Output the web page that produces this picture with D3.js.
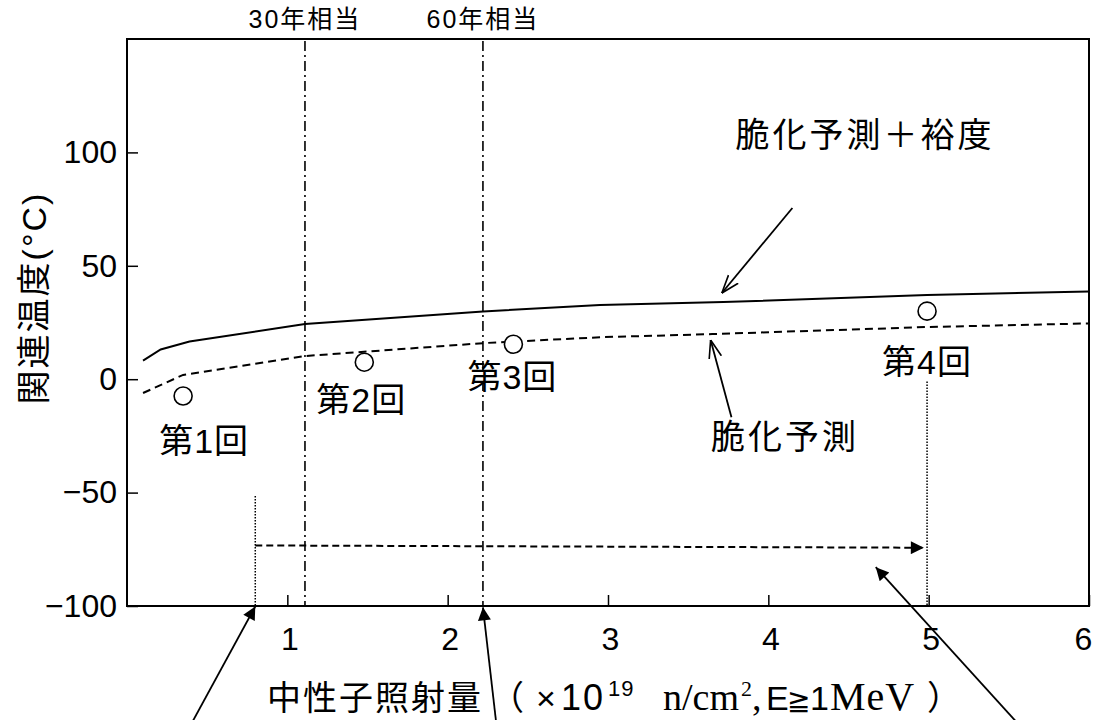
<!DOCTYPE html>
<html>
<head>
<meta charset="utf-8">
<script src="https://cdn.jsdelivr.net/npm/d3@7"></script>
<style>
  body { margin: 0; background: #fff; }
  svg { display: block; }
  text { fill: #000; }
</style>
</head>
<body>
<script>
// x: 中性子照射量 (x10^19 n/cm2), y: 関連温度 (°C)
var xTicks = [1, 2, 3, 4, 5, 6];
var yTicks = [-100, -50, 0, 50, 100];

// 脆化予測＋裕度 (solid)
var marginFluence = [0.10, 0.21, 0.39, 1.11, 2.22, 2.95, 3.72, 4.99, 6.0];
var marginTemp = [8.2, 13.1, 16.6, 24.3, 29.9, 32.7, 34.0, 37.1, 38.7];

// 脆化予測 (dashed)
var predFluence = [0.10, 0.35, 1.11, 2.22, 2.95, 3.65, 4.99, 6.0];
var predTemp = [-6.1, 1.9, 10.2, 15.9, 18.5, 19.9, 23.0, 24.6];

// surveillance tests
var testNames = ["第1回", "第2回", "第3回", "第4回"];
var testFluence = [0.35, 1.48, 2.41, 4.99];
var testTemp = [-7.4, 7.5, 15.4, 30];

// 30 / 60 year equivalents
var lifeNames = ["30年相当", "60年相当"];
var lifeFluence = [1.11, 2.22];

const width = 1093;
const height = 720;
const plotLeft = 127, plotRight = 1089, plotTop = 39, plotBottom = 606;

const cjk = "'Liberation Sans', 'Noto Sans CJK JP', sans-serif";
const sans = "'Liberation Sans', Arial, sans-serif";
const serif = "'Liberation Serif', 'Times New Roman', serif";

var svg = d3.select('body').append('svg')
    .attr('width', width)
    .attr('height', height);

const xScale = d3.scaleLinear().domain([0, 6]).range([plotLeft, plotRight]);
const yScale = d3.scaleLinear().domain([-100, 150]).range([plotBottom, plotTop]);

// arrow heads
var defs = svg.append('defs');
defs.append('marker')
    .attr('id', 'head')
    .attr('viewBox', '0 0 10 10')
    .attr('refX', 10).attr('refY', 5)
    .attr('markerUnits', 'userSpaceOnUse')
    .attr('markerWidth', 18).attr('markerHeight', 13)
    .attr('orient', 'auto')
  .append('path')
    .attr('d', 'M0,0L10,5L0,10Z')
    .attr('fill', '#000');
defs.append('marker')
    .attr('id', 'open')
    .attr('viewBox', '0 0 10 10')
    .attr('refX', 10).attr('refY', 5)
    .attr('markerUnits', 'userSpaceOnUse')
    .attr('markerWidth', 18).attr('markerHeight', 18)
    .attr('orient', 'auto')
  .append('path')
    .attr('d', 'M0,1.5L10,5L0,8.5')
    .attr('fill', 'none')
    .attr('stroke', '#000')
    .attr('stroke-width', 0.9);

// axes (ticks point inward)
var yAxis = svg.append('g')
    .attr('transform', `translate(${plotLeft},0)`)
    .call(d3.axisLeft(yScale).tickValues(yTicks).tickSize(-11).tickPadding(10));
yAxis.selectAll('text')
    .style('font-family', sans)
    .style('font-size', '32px');

var xAxis = svg.append('g')
    .attr('transform', `translate(0,${plotBottom})`)
    .call(d3.axisBottom(xScale).tickValues(xTicks).tickSize(-11).tickPadding(21)
        .tickFormat(d3.format('d')));
xAxis.selectAll('text')
    .attr('dx', d => d === 6 ? -6 : 2)
    .style('font-family', sans)
    .style('font-size', '32px');
svg.selectAll('.domain').remove();
svg.selectAll('.tick line').attr('stroke', '#000').attr('stroke-width', 1.5);

// frame
svg.append('rect')
    .attr('x', plotLeft).attr('y', plotTop)
    .attr('width', plotRight - plotLeft).attr('height', plotBottom - plotTop)
    .attr('fill', 'none')
    .attr('stroke', '#000')
    .attr('stroke-width', 2);

// 30 / 60 year lines
lifeNames.forEach((name, i) => {
    svg.append('line')
        .attr('x1', xScale(lifeFluence[i])).attr('x2', xScale(lifeFluence[i]))
        .attr('y1', plotTop + 2).attr('y2', plotBottom)
        .attr('stroke', '#000')
        .attr('stroke-width', 1.6)
        .attr('stroke-dasharray', '10,4,2,4');
    svg.append('text')
        .attr('x', xScale(lifeFluence[i]))
        .attr('y', 19)
        .attr('text-anchor', 'middle')
        .attr('dominant-baseline', 'central')
        .style('font-family', cjk)
        .style('font-size', '25px')
        .style('letter-spacing', '2px')
        .text(name);
});

// curves
var marginData = marginFluence.map((f, i) => ({x: f, y: marginTemp[i]}));
var predData = predFluence.map((f, i) => ({x: f, y: predTemp[i]}));
var line = d3.line().x(d => xScale(d.x)).y(d => yScale(d.y));

svg.append('path')
    .datum(marginData)
    .attr('d', line)
    .attr('fill', 'none')
    .attr('stroke', '#000')
    .attr('stroke-width', 2);

svg.append('path')
    .datum(predData)
    .attr('d', line)
    .attr('fill', 'none')
    .attr('stroke', '#000')
    .attr('stroke-width', 2)
    .attr('stroke-dasharray', '8,5');

// test points + labels
var labelDx = [21, -3, -1, 0];
var labelDy = [45, 38, 33, 51];
testNames.forEach((name, i) => {
    svg.append('circle')
        .attr('cx', xScale(testFluence[i]))
        .attr('cy', yScale(testTemp[i]))
        .attr('r', 9)
        .attr('fill', '#fff')
        .attr('stroke', '#000')
        .attr('stroke-width', 1.6);
    svg.append('text')
        .attr('x', xScale(testFluence[i]) + labelDx[i])
        .attr('y', yScale(testTemp[i]) + labelDy[i])
        .attr('text-anchor', 'middle')
        .attr('dominant-baseline', 'central')
        .style('font-family', cjk)
        .style('font-size', '34px')
        .style('letter-spacing', '1px')
        .text(name);
});

// dotted guides
function guide(x, y1, y2) {
    svg.append('line')
        .attr('x1', xScale(x)).attr('x2', xScale(x))
        .attr('y1', yScale(y1)).attr('y2', yScale(y2))
        .attr('stroke', '#000')
        .attr('stroke-width', 1.5)
        .attr('stroke-dasharray', '1.5,1.5');
}
guide(0.8, -51.5, -100);
guide(4.99, -1, -100);

// dashed range arrow
svg.append('line')
    .attr('x1', xScale(0.8)).attr('y1', yScale(-73.3))
    .attr('x2', xScale(4.97)).attr('y2', yScale(-74.3))
    .attr('stroke', '#000')
    .attr('stroke-width', 2)
    .attr('stroke-dasharray', '7,4')
    .attr('marker-end', 'url(#head)');

// pointer arrows
function arrow(x1, y1, x2, y2, marker, w) {
    svg.append('line')
        .attr('x1', xScale(x1)).attr('y1', yScale(y1))
        .attr('x2', xScale(x2)).attr('y2', yScale(y2))
        .attr('stroke', '#000')
        .attr('stroke-width', w)
        .attr('marker-end', `url(#${marker})`);
}
arrow(4.15, 75.5, 3.71, 38.0, 'open', 1.8);
arrow(3.77, -16.8, 3.64, 17.3, 'open', 1.8);
arrow(0.37, -156, 0.80, -100.2, 'head', 1.8);
arrow(2.31, -156, 2.22, -100.6, 'head', 1.8);
arrow(5.61, -156, 4.67, -82.9, 'head', 1.8);

// curve labels
svg.append('text')
    .attr('x', 865).attr('y', 135)
    .attr('text-anchor', 'middle')
    .attr('dominant-baseline', 'central')
    .style('font-family', cjk)
    .style('font-size', '34px')
    .style('letter-spacing', '3px')
    .text('脆化予測＋裕度');

svg.append('text')
    .attr('x', 785).attr('y', 437)
    .attr('text-anchor', 'middle')
    .attr('dominant-baseline', 'central')
    .style('font-family', cjk)
    .style('font-size', '34px')
    .style('letter-spacing', '3px')
    .text('脆化予測');

// y label
svg.append('text')
    .attr('transform', 'translate(46,298) rotate(-90)')
    .attr('text-anchor', 'middle')
    .style('font-family', cjk)
    .style('font-size', '34px')
    .style('letter-spacing', '2px')
    .text('関連温度(°C)');

// x label, pieces placed along the baseline
var xl = svg.append('text')
    .attr('y', 710)
    .style('font-family', cjk)
    .style('font-size', '34px');
var pieces = [
    {t: '中性子照射量', x: 267, f: cjk, s: 34, ls: 2},
    {t: '（', x: 490, f: cjk, s: 34},
    {t: '×', x: 536, f: sans, s: 34},
    {t: '10', x: 561, f: sans, s: 36, ls: 2},
    {t: '19', x: 608, f: sans, s: 22, ls: 1, up: true},
    {t: 'n/cm', x: 663, f: serif, s: 38},
    {t: '2', x: 741, f: serif, s: 22, up: true},
    {t: ',', x: 752, f: serif, s: 38},
    {t: 'E', x: 766, f: sans, s: 34},
    {t: '≧', x: 787, f: "'DejaVu Sans', sans-serif", s: 28},
    {t: '1', x: 810, f: sans, s: 34},
    {t: 'MeV', x: 830, f: serif, s: 40, ls: 1},
    {t: '）', x: 927, f: cjk, s: 34}
];
pieces.forEach(p => {
    xl.append('tspan')
        .attr('x', p.x)
        .attr('y', p.up ? 696 : 710)
        .style('font-family', p.f)
        .style('font-size', p.s + 'px')
        .style('letter-spacing', (p.ls || 0) + 'px')
        .text(p.t);
});
</script>
</body>
</html>
